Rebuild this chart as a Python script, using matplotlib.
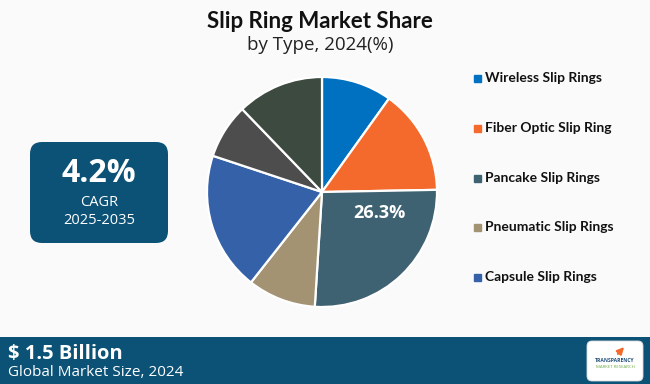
import matplotlib
matplotlib.use('Agg')
import matplotlib.pyplot as plt
from matplotlib.patches import FancyBboxPatch, Rectangle

# data (clockwise from 12 o'clock)
segments = ['Wireless Slip Rings', 'Fiber Optic Slip Ring', 'Pancake Slip Rings',
            'Pneumatic Slip Rings', 'Capsule Slip Rings', 'Other A', 'Other B']
shares = [9.9, 14.8, 26.3, 9.6, 19.5, 7.7, 12.2]
colors = ['#0070C0', '#F4692C', '#3F6273', '#A39373', '#3461A8', '#4D4D4D', '#3D4A40']
legend_items = segments[:5]
highlight = 2  # Pancake label

W, H = 650, 384
fig = plt.figure(figsize=(W / 100, H / 100), dpi=100)
fig.patch.set_facecolor('#FAFAFA')
plt.rcParams['font.family'] = ['Open Sans', 'DejaVu Sans']

# overlay axes in pixel coords
bg = fig.add_axes([0, 0, 1, 1])
bg.set_xlim(0, W); bg.set_ylim(H, 0); bg.axis('off')

bg.text(320, 22, 'Slip Ring Market Share', ha='center', va='center',
        fontsize=16, fontweight='bold', color='#111111', family='Lato')
bg.text(320, 45, 'by Type, 2024(%)', ha='center', va='center',
        fontsize=13.5, color='#222222')

# pie
cx, cy, r = 322, 192, 115
pax = fig.add_axes([(cx - r) / W, (H - cy - r) / H, 2 * r / W, 2 * r / H])
wedges, _ = pax.pie(shares, colors=colors, startangle=90, counterclock=False,
                    wedgeprops=dict(edgecolor='white', linewidth=1.6))
pax.set_xlim(-1, 1); pax.set_ylim(-1, 1)
pax.set_aspect('equal')
pax.text(0.5, -0.18, f'{shares[highlight]}%', ha='center', va='center',
         fontsize=13, fontweight='bold', color='white')

# legend
ly = [78, 128, 178, 227, 277]
for name, c, y in zip(legend_items, colors, ly):
    bg.add_patch(Rectangle((474, y - 3.5), 7, 7, color=c))
    bg.text(485, y, name, ha='left', va='center', fontsize=10,
            fontweight='bold', color='#111111', family='Lato')

# CAGR box
bg.add_patch(FancyBboxPatch((30, 142), 138, 101, boxstyle='round,pad=0,rounding_size=12',
                            facecolor='#0B5276', edgecolor='none'))
bg.text(99, 173, '4.2%', ha='center', va='center', fontsize=23,
        fontweight='bold', color='white')
bg.text(99, 202, 'CAGR', ha='center', va='center', fontsize=10.5, color='white')
bg.text(99, 220, '2025-2035', ha='center', va='center', fontsize=10.5, color='white')

# bottom bar
bg.add_patch(Rectangle((0, 337), W, 47, facecolor='#0B5276', edgecolor='none'))
bg.text(8, 354, '$ 1.5 Billion', ha='left', va='center', fontsize=14.5,
        fontweight='bold', color='white')
bg.text(8, 372, 'Global Market Size, 2024', ha='left', va='center',
        fontsize=11, color='white')

# logo
bg.add_patch(FancyBboxPatch((587, 341), 56, 40, boxstyle='round,pad=0,rounding_size=5',
                            facecolor='white', edgecolor='#DDDDDD', linewidth=0.6))
bg.text(615, 361, 'TRANSPARENCY', ha='center', va='center', fontsize=3.6,
        fontweight='bold', color='#1F4E79')
bg.text(615, 367, 'MARKET RESEARCH', ha='center', va='center', fontsize=3.2,
        color='#70AD47')
bg.annotate('', xy=(626, 345), xytext=(616, 356),
            arrowprops=dict(arrowstyle='-|>', color='#F4692C', lw=1.5))

fig.savefig('out.png', dpi=100, facecolor=fig.get_facecolor())
